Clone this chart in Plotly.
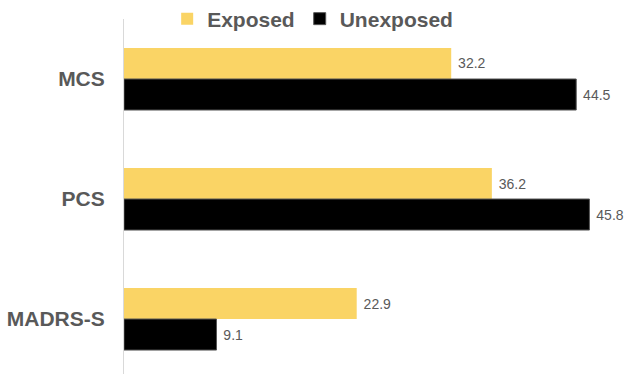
import plotly.graph_objects as go

categories = ["MCS", "PCS", "MADRS-S"]
exposed = [32.2, 36.2, 22.9]
unexposed = [44.5, 45.8, 9.1]

fig = go.Figure()
fig.add_trace(go.Bar(
    y=categories, x=exposed, name="Exposed", orientation="h",
    marker=dict(color="#FAD465", line=dict(width=0)),
    text=exposed, texttemplate=" %{x}", textposition="outside",
    textfont=dict(color="#595959", size=14, family="Liberation Sans, Arial"),
    cliponaxis=False,
))
fig.add_trace(go.Bar(
    y=categories, x=unexposed, name="Unexposed", orientation="h",
    marker=dict(color="#000000", line=dict(width=1, color="#555555")),
    text=unexposed, texttemplate=" %{x}", textposition="outside",
    textfont=dict(color="#595959", size=14, family="Liberation Sans, Arial"),
    cliponaxis=False,
))

fig.update_layout(
    width=626, height=374,
    margin=dict(l=124, r=0, t=19, b=0, autoexpand=False),
    paper_bgcolor="white", plot_bgcolor="white",
    barmode="group", bargap=0.483, bargroupgap=0,
    font=dict(family="Liberation Sans, Arial", color="#595959"),
    legend=dict(
        orientation="h", x=0.086, xanchor="left", y=1.0, yanchor="middle",
        font=dict(size=21, color="#595959", family="Liberation Sans, Arial", weight="bold"),
        itemwidth=30, traceorder="normal",
        bgcolor="rgba(0,0,0,0)",
    ),
    showlegend=True,
)
fig.update_xaxes(range=[0, 49.4], visible=False, showgrid=False, zeroline=False)
fig.update_yaxes(
    categoryorder="array", categoryarray=categories,
    range=[2.458, -0.5],
    showline=True, linecolor="#D9D9D9", linewidth=1,
    showgrid=False, zeroline=False, ticks="",
    ticklabelstandoff=14,
    tickfont=dict(size=21, color="#595959", family="Liberation Sans, Arial", weight="bold"),
)
fig.write_html("out.html")
